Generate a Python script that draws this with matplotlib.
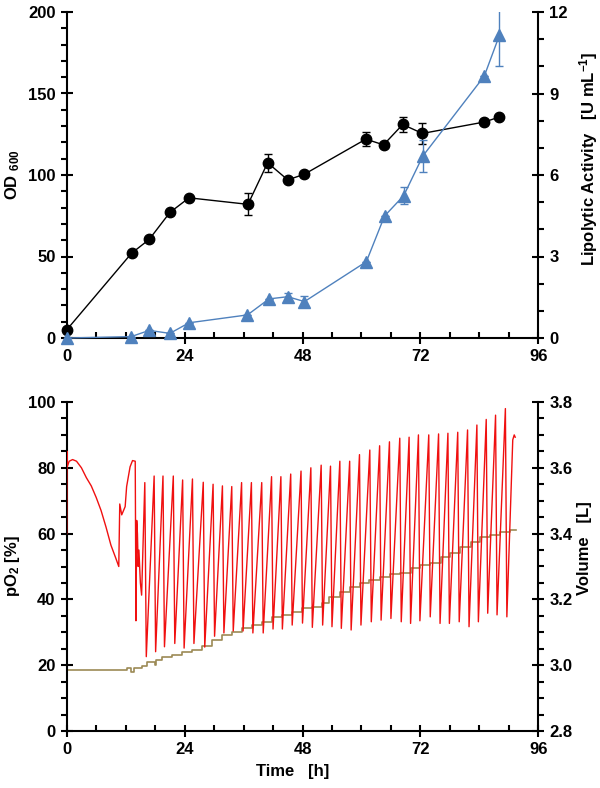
import matplotlib
matplotlib.use("Agg")
import matplotlib.pyplot as plt
from matplotlib.ticker import MultipleLocator

plt.rcParams['font.family'] = ['Liberation Sans', 'DejaVu Sans']
plt.rcParams['font.weight'] = 'bold'
plt.rcParams['mathtext.fontset'] = 'custom'
plt.rcParams['mathtext.bf'] = 'Liberation Sans:bold'
plt.rcParams['mathtext.rm'] = 'Liberation Sans:bold'
plt.rcParams['mathtext.default'] = 'bf'

# ---------------- top panel data ----------------
od_time = [0, 13.2, 16.8, 21.0, 24.9, 36.9, 40.9, 45.0, 48.4, 60.9, 64.5, 68.4, 72.4, 85.0, 88.0]
od_value = [5, 52, 60.5, 77, 86, 82, 107.5, 97, 100.5, 122, 118.5, 131, 125.5, 132.5, 135.5]
od_err = [0, 0, 0, 1.5, 0, 6.8, 5.5, 0, 1.5, 4.3, 1.5, 4.8, 6.5, 2.0, 0]

lip_time = [0, 13.1, 16.8, 21.0, 24.9, 36.8, 41.2, 45.0, 48.4, 61.0, 64.7, 68.6, 72.5, 85.0, 88.1]
lip_value = [0, 0.05, 0.28, 0.17, 0.56, 0.85, 1.44, 1.52, 1.34, 2.81, 4.49, 5.24, 6.7, 9.64, 11.15]
lip_err = [0, 0, 0, 0, 0, 0, 0, 0.15, 0.2, 0, 0, 0.3, 0.6, 0, 1.15]

# ---------------- bottom panel data ----------------
po2_early_t = [0.0, 0.05, 0.15, 0.5, 1.2, 2.0, 3.0, 4.0, 5.0, 6.0, 7.0, 8.0, 9.0, 10.0, 10.6,
               10.8, 11.2, 11.9, 12.2, 12.9, 13.4, 13.95, 14.1, 14.25, 14.4, 14.55, 14.7, 15.0, 15.25]
po2_early_v = [60, 85, 80.5, 82, 82.5, 82, 80, 77, 74.5, 71, 67, 62, 56.5, 52.5, 50,
               69, 65.7, 68.2, 74.3, 80.3, 82.2, 82, 33.5, 64, 60, 50, 55, 45, 41.3]

peak_t = [15.9, 17.8, 19.6, 21.7, 23.6, 25.6, 27.8, 29.8, 31.7, 33.6, 35.6, 37.6, 39.7,
          41.7, 43.6, 45.6, 47.7, 49.7, 51.8, 53.7, 55.6, 57.6, 59.6, 61.7, 63.7, 65.7,
          67.8, 69.7, 71.6, 73.7, 75.7, 77.6, 79.6, 81.6, 83.5, 85.4, 87.3, 89.3]
peak_v = [75.5, 77.5, 77.5, 77.5, 76.3, 76.6, 75.6, 75.0, 74.5, 74.3, 75.5, 75.5, 75.5,
          77.3, 77.3, 78.1, 79.0, 80.0, 80.8, 80.5, 82.0, 82.0, 84.0, 85.4, 86.7, 87.9,
          89.0, 89.3, 90.0, 90.0, 90.3, 90.5, 90.8, 91.5, 93.0, 94.7, 96.0, 98.0]
trough_t = [16.2, 18.1, 19.9, 22.0, 23.9, 25.9, 28.1, 30.1, 32.0, 33.9, 35.9, 37.9, 40.0,
            42.0, 43.9, 45.9, 48.0, 50.0, 52.1, 54.0, 55.9, 57.9, 59.9, 62.0, 64.0, 66.0,
            68.1, 70.0, 71.9, 74.0, 76.0, 77.9, 79.9, 81.9, 83.8, 85.7, 87.6, 89.6]
trough_v = [22.6, 24.1, 25.6, 26.6, 25.2, 26.6, 25.5, 28.8, 29.8, 30.4, 30.4, 29.8, 29.8,
            31.0, 31.0, 32.2, 32.8, 31.5, 32.2, 31.7, 31.2, 30.7, 32.2, 33.2, 33.7, 34.2,
            33.2, 32.7, 33.5, 34.7, 32.7, 32.7, 33.2, 31.7, 33.2, 35.8, 35.3, 34.7]
po2_late_t = [90.8, 91.1, 91.3]
po2_late_v = [88.5, 90.0, 89.3]

vol_t = [0, 12.3, 13.0, 13.6, 15.3, 16.4, 17.9, 18.2, 19.5, 21.5, 23.5, 25.5, 27.6, 29.6,
         31.7, 33.7, 35.7, 37.8, 39.8, 41.8, 43.8, 45.9, 47.9, 50.0, 52.0, 53.4, 55.6,
         57.7, 59.7, 61.6, 63.8, 65.9, 67.9, 70.0, 72.0, 74.0, 76.1, 78.1, 80.1, 82.2,
         84.2, 86.2, 88.3, 90.3, 91.5]
vol_v = [2.985, 2.99, 2.978, 2.99, 2.998, 3.01, 3.0, 3.016, 3.026, 3.03, 3.04, 3.046, 3.058,
         3.077, 3.092, 3.102, 3.112, 3.122, 3.132, 3.146, 3.153, 3.163, 3.173, 3.178, 3.19,
         3.208, 3.223, 3.239, 3.25, 3.259, 3.269, 3.277, 3.28, 3.295, 3.305, 3.31, 3.33,
         3.342, 3.36, 3.375, 3.389, 3.396, 3.406, 3.411, 3.412]

x_ticks = [0, 24, 48, 72, 96]

BLUE = '#4f81bd'
RED = '#f01010'
OLIVE = '#9c8a55'

fig = plt.figure(figsize=(6.0, 7.88), dpi=100)
W, H = 600.0, 788.0
axL, axR = 66.7, 538.3


def make_axes(top_px, bot_px):
    return fig.add_axes([axL / W, 1 - bot_px / H, (axR - axL) / W, (bot_px - top_px) / H])


def style(ax, twin):
    ax.spines['top'].set_visible(False)
    twin.spines['top'].set_visible(False)
    for sp in ['left', 'bottom', 'right']:
        ax.spines[sp].set_linewidth(1.5)
        twin.spines[sp].set_linewidth(1.5)
    ax.spines['right'].set_visible(False)
    twin.spines['left'].set_visible(False)
    twin.spines['bottom'].set_visible(False)
    ax.set_xlim(0, 96)
    ax.set_xticks(x_ticks)
    ax.xaxis.set_minor_locator(MultipleLocator(6))
    ax.tick_params(axis='x', which='major', direction='inout', length=8, width=1.5,
                   labelsize=12, pad=4)
    ax.tick_params(axis='x', which='minor', direction='in', length=4, width=1.5)
    ax.tick_params(axis='y', which='major', direction='inout', length=8, width=1.5,
                   labelsize=12, pad=4)
    ax.tick_params(axis='y', which='minor', direction='out', length=4, width=1.5)
    twin.tick_params(axis='y', which='major', direction='inout', length=8, width=1.5,
                     labelsize=12, pad=4)
    twin.tick_params(axis='y', which='minor', direction='out', length=4, width=1.5)
    for lab in ax.get_xticklabels() + ax.get_yticklabels() + twin.get_yticklabels():
        lab.set_fontweight('bold')


# ---------------- top panel ----------------
ax1 = make_axes(12, 338)
ax1b = ax1.twinx()

ax1.errorbar(od_time, od_value, yerr=od_err, fmt='none', ecolor='black',
             elinewidth=1.0, capsize=3, capthick=1.0)
ax1.plot(od_time, od_value, color='black', marker='o', markersize=7.5,
         linewidth=1.0, clip_on=False, zorder=3)
ax1b.errorbar(lip_time, lip_value, yerr=lip_err, fmt='none', ecolor=BLUE,
              elinewidth=1.0, capsize=3, capthick=1.0)
ax1b.plot(lip_time, lip_value, color=BLUE, marker='^', markersize=9,
          linewidth=1.0, clip_on=False, zorder=3)

ax1.set_ylim(0, 200)
ax1.set_yticks([0, 50, 100, 150, 200])
ax1.yaxis.set_minor_locator(MultipleLocator(10))
ax1b.set_ylim(0, 12)
ax1b.set_yticks([0, 3, 6, 9, 12])
ax1b.yaxis.set_minor_locator(MultipleLocator(1))
style(ax1, ax1b)
ax1.set_ylabel('OD $_{600}$', fontsize=12, fontweight='bold')
ax1.yaxis.set_label_coords(-0.095, 0.5)
ax1b.set_ylabel('Lipolytic Activity   [U mL$^{-1}$]', fontsize=12, fontweight='bold')
ax1b.yaxis.set_label_coords(1.083, 0.55)

# ---------------- bottom panel ----------------
ax2 = make_axes(402, 731)
ax2b = ax2.twinx()

po2_t = list(po2_early_t)
po2_v = list(po2_early_v)
for pt, pv, tt, tv in zip(peak_t, peak_v, trough_t, trough_v):
    po2_t += [pt, tt]
    po2_v += [pv, tv]
po2_t += po2_late_t
po2_v += po2_late_v

ax2.plot(po2_t, po2_v, color=RED, linewidth=1.0, zorder=3)
ax2b.plot(vol_t, vol_v, color=OLIVE, linewidth=1.2, drawstyle='steps-post')
ax2.set_zorder(ax2b.get_zorder() + 1)
ax2.patch.set_visible(False)

ax2.set_ylim(0, 100)
ax2.set_yticks([0, 20, 40, 60, 80, 100])
ax2.yaxis.set_minor_locator(MultipleLocator(5))
ax2b.set_ylim(2.8, 3.8)
ax2b.set_yticks([2.8, 3.0, 3.2, 3.4, 3.6, 3.8])
ax2b.set_yticklabels(['2.8', '3.0', '3.2', '3.4', '3.6', '3.8'])
ax2b.yaxis.set_minor_locator(MultipleLocator(0.05))
style(ax2, ax2b)
ax2.set_ylabel('pO$_{2}$ [%]', fontsize=12, fontweight='bold')
ax2.yaxis.set_label_coords(-0.095, 0.5)
ax2b.set_ylabel('Volume   [L]', fontsize=12, fontweight='bold')
ax2b.yaxis.set_label_coords(1.083, 0.555)
ax2.set_xlabel('Time   [h]', fontsize=12, fontweight='bold')
ax2.xaxis.set_label_coords(0.48, -0.1)

fig.savefig('out.png', dpi=100)
